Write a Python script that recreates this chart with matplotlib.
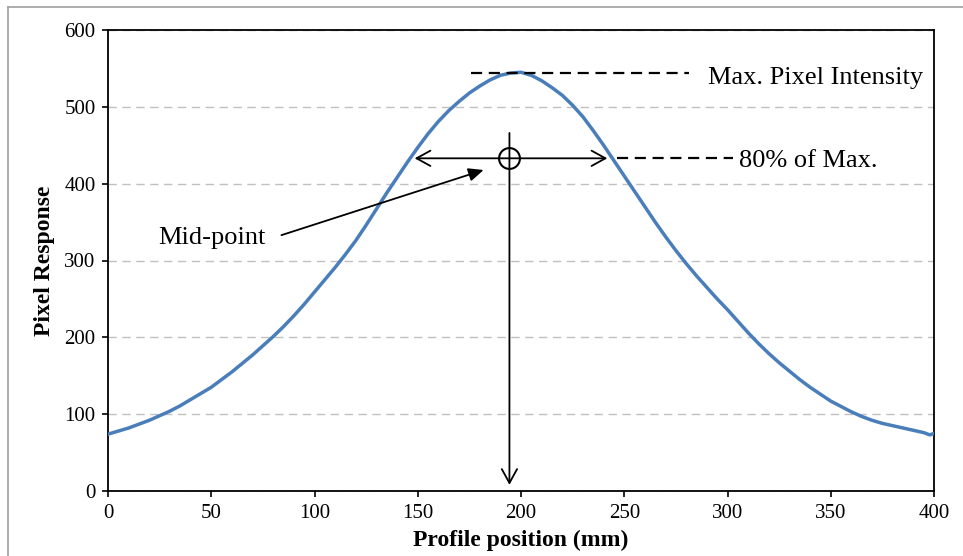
import matplotlib
matplotlib.use("Agg")
import matplotlib.pyplot as plt
from matplotlib.lines import Line2D

# ---- data ----
position_mm = [0, 5, 10, 15, 20, 25, 30, 35, 40, 45, 50, 55, 60, 65, 70, 75, 80, 85, 90, 95,
               100, 105, 110, 115, 120, 125, 130, 135, 140, 145, 150, 155, 160, 165, 170, 175,
               180, 185, 190, 195, 200, 205, 210, 215, 220, 225, 230, 235, 240, 245, 250, 255,
               260, 265, 270, 275, 280, 285, 290, 295, 300, 305, 310, 315, 320, 325, 330, 335,
               340, 345, 350, 355, 360, 365, 370, 375, 380, 385, 390, 395, 398, 400]
pixel_response = [74, 78, 82, 87, 92, 98, 104, 111, 119, 127, 135, 145, 155, 166, 177, 189, 201, 214, 228, 243,
                  259, 275, 291, 308, 326, 346, 367, 388, 408, 428, 447, 465, 481, 495, 507, 518,
                  527, 535, 541, 544, 545, 541, 534, 525, 515, 502, 487, 469, 450, 430, 410, 390,
                  370, 350, 331, 313, 296, 280, 265, 250, 236, 221, 206, 192, 179, 167, 156, 145,
                  135, 126, 117, 110, 103, 97, 92, 88, 85, 82, 79, 76, 73, 75]
x_ticks = [0, 50, 100, 150, 200, 250, 300, 350, 400]
y_ticks = [0, 100, 200, 300, 400, 500, 600]

max_line_x = [176, 281.5]
max_level = 544
level80_line_x = [246.7, 302.8]
level80 = 433
mid_x = 194.4
fwhm_left, fwhm_right = 148.5, 241.8

plt.rcParams['font.family'] = ['Liberation Serif', 'DejaVu Serif']

fig = plt.figure(figsize=(9.63, 5.56), dpi=100)
ax = fig.add_axes([108/963, 1-491/556, (934-108)/963, (491-30)/556])

ax.plot(position_mm, pixel_response, color='#4A7EBB', lw=2.5, zorder=3)

ax.set_xlim(0, 400)
ax.set_ylim(0, 600)
ax.set_xticks(x_ticks)
ax.set_yticks(y_ticks)
ax.tick_params(direction='out', length=4, width=1.2, labelsize=15, pad=5, color='black')
for sp in ax.spines.values():
    sp.set_linewidth(1.3)
    sp.set_color('black')
ax.yaxis.grid(True, color='#C0C0C0', lw=1.0, ls=(0, (6, 4)))
ax.set_axisbelow(True)

ax.set_xlabel('Profile position (mm)', fontsize=17, fontweight='bold', labelpad=5)
ax.set_ylabel('Pixel Response', fontsize=17, fontweight='bold', labelpad=7)

# Max pixel intensity dashed line + text
ax.plot(max_line_x, [max_level, max_level], color='black', lw=1.6, ls=(0, (5, 3)), zorder=4)
ax.text(290.5, 530, 'Max. Pixel Intensity', fontsize=19, ha='left', va='baseline')

# 80% dashed line + text
ax.plot(level80_line_x, [level80, level80], color='black', lw=1.6, ls=(0, (5, 3)), zorder=4)
ax.text(305.5, 421.5, '80% of Max.', fontsize=19, ha='left', va='baseline')

# horizontal double arrow
ax.annotate('', xy=(fwhm_left, level80), xytext=(fwhm_right, level80),
            arrowprops=dict(arrowstyle='<->,head_length=1.0,head_width=0.55', color='black', lw=1.3,
                            shrinkA=0, shrinkB=0), zorder=5)
# vertical arrow down
ax.annotate('', xy=(mid_x, 8), xytext=(mid_x, 466),
            arrowprops=dict(arrowstyle='->,head_length=1.0,head_width=0.55', color='black', lw=1.3,
                            shrinkA=0, shrinkB=0), zorder=5)
# circle at mid-point
ax.plot([mid_x], [level80], marker='o', ms=15, mfc='none', mec='black', mew=1.5, zorder=6)

# Mid-point label arrow
ax.annotate('', xy=(181.9, 417.8), xytext=(84, 333),
            arrowprops=dict(arrowstyle='-|>,head_length=0.9,head_width=0.4', color='black', lw=1.3,
                            shrinkA=0, shrinkB=0), zorder=5)
ax.text(24.2, 329, 'Mid-point', fontsize=19, ha='left', va='center')

# outer grey frame
fig.add_artist(Line2D([8/963, 8/963], [0, 1-7/556], color='#A0A0A0', lw=1.2, transform=fig.transFigure))
fig.add_artist(Line2D([8/963, 1], [1-7/556, 1-7/556], color='#A0A0A0', lw=1.2, transform=fig.transFigure))

fig.savefig('out.png', dpi=100)
